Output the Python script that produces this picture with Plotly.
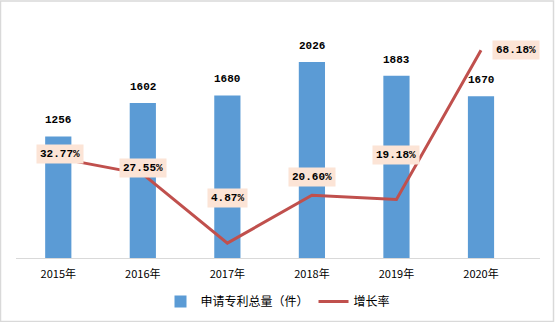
import plotly.graph_objects as go

years = ["2015年", "2016年", "2017年", "2018年", "2019年", "2020年"]
patents = [1256, 1602, 1680, 2026, 1883, 1670]
growth = [32.77, 27.55, 4.87, 20.60, 19.18, 68.18]
growth_labels = ["32.77%", "27.55%", "4.87%", "20.60%", "19.18%", "68.18%"]

label_font = dict(family="Liberation Mono, DejaVu Sans Mono, monospace", size=11, color="#000000")

fig = go.Figure()
fig.add_trace(go.Bar(
    x=years, y=patents, name="申请专利总量（件）",
    marker=dict(color="#5B9BD5", line=dict(width=0)),
    width=0.31,
))
fig.add_trace(go.Scatter(
    x=years, y=growth, name="增长率", yaxis="y2", mode="lines",
    line=dict(color="#C0504D", width=3),
))

# bar value labels
for xv, yv in zip(years, patents):
    fig.add_annotation(
        x=xv, y=yv, xref="x", yref="y", text=f"<b>{yv}</b>",
        showarrow=False, yanchor="bottom", yshift=8, font=label_font,
    )

# label offsets (pixels) for the growth-rate labels
shifts = [(2, 4), (0, 6), (0, 45), (0, 18), (0, 45), (35, 0)]
for xv, yv, lab, (dx, dy) in zip(years, growth, growth_labels, shifts):
    fig.add_annotation(
        x=xv, y=yv, xref="x", yref="y2", text=f"<b>{lab}</b>",
        showarrow=False, xshift=dx, yshift=dy,
        bgcolor="#FCE4D6", borderpad=3, font=label_font,
    )

# outer chart border
fig.add_shape(type="rect", xref="paper", yref="paper",
              x0=-15.5 / 524, x1=537.5 / 524, y0=-63.5 / 242, y1=257 / 242,
              line=dict(color="#D9D9D9", width=1.5), fillcolor="rgba(0,0,0,0)", layer="below")

fig.update_layout(
    width=556, height=322,
    margin=dict(l=16, r=16, t=16, b=64, autoexpand=False),
    paper_bgcolor="white", plot_bgcolor="white",
    bargap=0.69,
    showlegend=True,
    legend=dict(orientation="h", x=0.5, xanchor="center", y=-0.12, yanchor="top",
                font=dict(family="Noto Sans CJK SC", size=12, color="#000000"),
                itemwidth=30, traceorder="normal"),
    xaxis=dict(showgrid=False, showline=True, linecolor="#D9D9D9", linewidth=1,
               ticks="outside", ticklen=6, tickcolor="rgba(0,0,0,0)",
               tickfont=dict(family="Noto Sans CJK SC", size=11, color="#000000")),
    yaxis=dict(range=[0, 2500], visible=False, showgrid=False),
    yaxis2=dict(range=[0, 79.4], overlaying="y", side="right", visible=False, showgrid=False),
    font=dict(family="Noto Sans CJK SC"),
)

fig.write_html("out.html")
